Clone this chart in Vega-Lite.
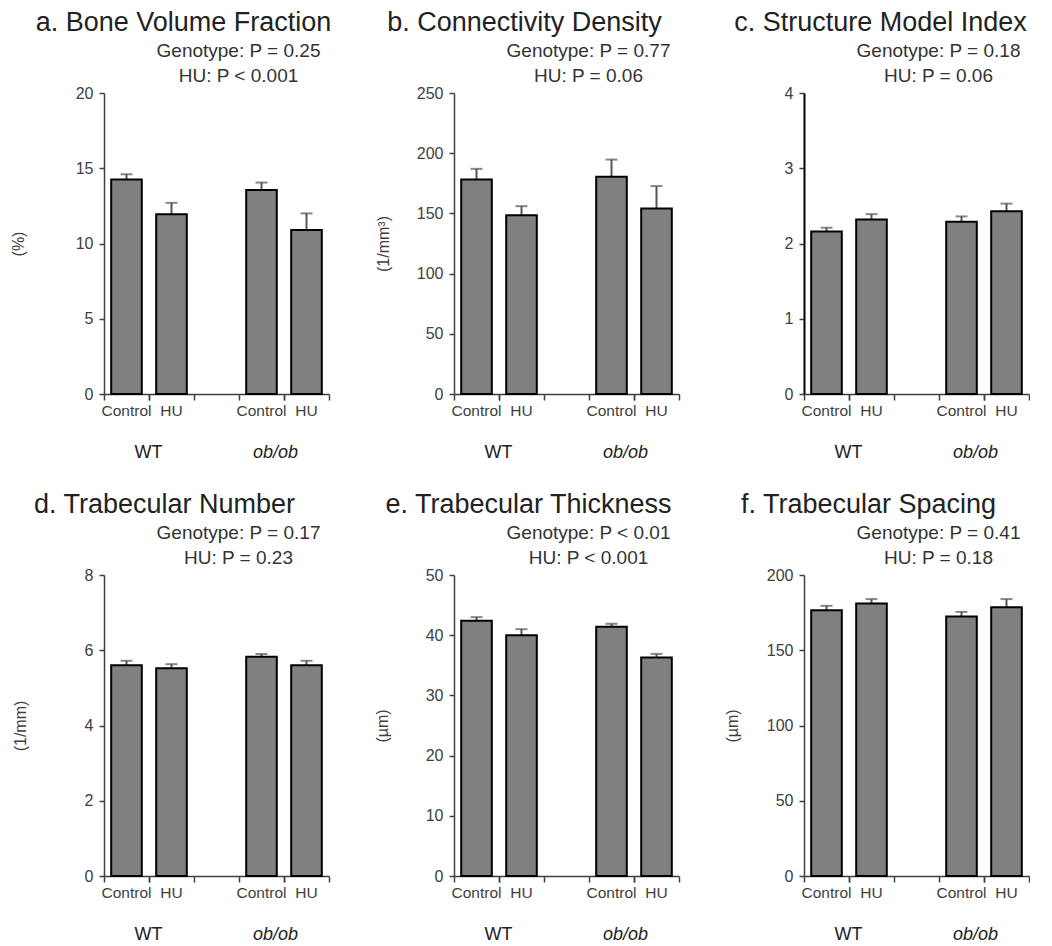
{
  "$schema": "https://vega.github.io/schema/vega-lite/v6.json",
  "padding": {"left": 10, "top": 9, "right": 0, "bottom": 0},
  "background": "white",
  "datasets": {
    "d": [
      {"panel": "a", "group": "WT Control", "mean": 14.25, "upper": 14.6},
      {"panel": "a", "group": "WT HU", "mean": 11.95, "upper": 12.7},
      {"panel": "a", "group": "ob/ob Control", "mean": 13.55, "upper": 14.05},
      {"panel": "a", "group": "ob/ob HU", "mean": 10.9, "upper": 12.0},
      {"panel": "b", "group": "WT Control", "mean": 178.2, "upper": 187},
      {"panel": "b", "group": "WT HU", "mean": 148.5, "upper": 156},
      {"panel": "b", "group": "ob/ob Control", "mean": 180.4, "upper": 194.7},
      {"panel": "b", "group": "ob/ob HU", "mean": 154, "upper": 172.7},
      {"panel": "c", "group": "WT Control", "mean": 2.16, "upper": 2.21},
      {"panel": "c", "group": "WT HU", "mean": 2.32, "upper": 2.39},
      {"panel": "c", "group": "ob/ob Control", "mean": 2.29, "upper": 2.36},
      {"panel": "c", "group": "ob/ob HU", "mean": 2.43, "upper": 2.53},
      {"panel": "d", "group": "WT Control", "mean": 5.6, "upper": 5.72},
      {"panel": "d", "group": "WT HU", "mean": 5.52, "upper": 5.63},
      {"panel": "d", "group": "ob/ob Control", "mean": 5.83, "upper": 5.9},
      {"panel": "d", "group": "ob/ob HU", "mean": 5.6, "upper": 5.72},
      {"panel": "e", "group": "WT Control", "mean": 42.4, "upper": 43.0},
      {"panel": "e", "group": "WT HU", "mean": 40.0, "upper": 41.0},
      {"panel": "e", "group": "ob/ob Control", "mean": 41.4, "upper": 41.9},
      {"panel": "e", "group": "ob/ob HU", "mean": 36.3, "upper": 36.9},
      {"panel": "f", "group": "WT Control", "mean": 176.5, "upper": 179.5},
      {"panel": "f", "group": "WT HU", "mean": 181, "upper": 184},
      {"panel": "f", "group": "ob/ob Control", "mean": 172.5, "upper": 175.5},
      {"panel": "f", "group": "ob/ob HU", "mean": 178.5, "upper": 184}
    ]
  },
  "columns": 3,
  "bounds": "flush",
  "align": "all",
  "spacing": {"row": 181, "column": 125},
  "concat": [
    {
      "title": {"text": "a. Bone Volume Fraction", "dx": -33},
      "width": 225, "height": 301,
      "data": {"name": "d"},
      "transform": [{"filter": "datum.panel == 'a'"}],
      "resolve": {"axis": {"x": "independent"}},
      "layer": [
        {"mark": {"type": "bar", "width": {"band": 0.68}, "fill": "#808080", "stroke": null},
         "encoding": {
           "x": {"field": "group", "type": "nominal", "scale": {"domain": ["WT Control", "WT HU", "gap", "ob/ob Control", "ob/ob HU"], "paddingInner": 0, "paddingOuter": 0},
                 "axis": {"orient": "bottom", "bandPosition": 0, "labels": false, "ticks": true, "tickSize": 6, "domain": true, "title": null}},
           "y": {"field": "mean", "type": "quantitative", "scale": {"domain": [0, 20], "nice": false},
                 "axis": {"values": [0, 5, 10, 15, 20], "format": "d", "title": "(%)", "titleX": -86, "titleBaseline": "middle", "titleFontSize": 16, "tickSize": 5, "labelPadding": 6, "labelFontSize": 16}}
         }},
        {"mark": {"type": "rule", "color": "#555555", "strokeWidth": 2},
         "encoding": {
           "x": {"field": "group", "type": "nominal",
                 "axis": {"orient": "bottom", "bandPosition": 1, "values": ["WT Control", "ob/ob Control", "ob/ob HU"], "ticks": true, "tickSize": 6, "domain": false, "title": null, "labelAngle": 0, "labelOverlap": false, "labelExpr": "datum.value == 'WT Control' ? 'WT' : (datum.value == 'ob/ob Control' ? 'ob/ob' : '')", "labelFontStyle": {"condition": {"test": "datum.value == 'ob/ob Control'", "value": "italic"}, "value": "normal"}, "labelOffset": {"condition": {"test": "datum.value == 'ob/ob Control'", "value": 14}, "value": 22}, "labelFontSize": 18, "labelPadding": 43, "labelColor": "#222222"}},
           "y": {"field": "mean", "type": "quantitative"},
           "y2": {"field": "upper"}
         }},
        {"mark": {"type": "tick", "color": "#555555", "thickness": 2, "size": 12, "orient": "horizontal"},
         "encoding": {
           "x": {"field": "group", "type": "nominal",
                 "axis": {"orient": "bottom", "bandPosition": 0.5, "values": ["WT Control", "WT HU", "ob/ob Control", "ob/ob HU"], "ticks": false, "domain": false, "title": null, "labelAngle": 0, "labelOverlap": false, "labelExpr": "indexof(datum.value, 'Control') >= 0 ? 'Control' : 'HU'", "labelPadding": 9, "labelFontSize": 15.5}},
           "y": {"field": "upper", "type": "quantitative"}
         }},
        {"mark": {"type": "bar", "width": {"band": 0.68}, "fill": "transparent", "stroke": "black", "strokeWidth": 2},
         "encoding": {
           "x": {"field": "group", "type": "nominal",
                 "axis": {"orient": "top", "domain": false, "ticks": false, "labels": false, "title": ["Genotype:  P = 0.25", "HU: P < 0.001"], "titleFontSize": 19, "titleColor": "#333333", "titleX": 134, "titleY": -37, "titleBaseline": "alphabetic", "titleAlign": "center", "titleLineHeight": 25}},
           "y": {"field": "mean", "type": "quantitative"}
         }}
      ]
    },
    {
      "title": {"text": "b. Connectivity Density", "dx": -42},
      "width": 225, "height": 301,
      "data": {"name": "d"},
      "transform": [{"filter": "datum.panel == 'b'"}],
      "resolve": {"axis": {"x": "independent"}},
      "layer": [
        {"mark": {"type": "bar", "width": {"band": 0.68}, "fill": "#808080", "stroke": null},
         "encoding": {
           "x": {"field": "group", "type": "nominal", "scale": {"domain": ["WT Control", "WT HU", "gap", "ob/ob Control", "ob/ob HU"], "paddingInner": 0, "paddingOuter": 0},
                 "axis": {"orient": "bottom", "bandPosition": 0, "labels": false, "ticks": true, "tickSize": 6, "domain": true, "title": null}},
           "y": {"field": "mean", "type": "quantitative", "scale": {"domain": [0, 250], "nice": false},
                 "axis": {"values": [0, 50, 100, 150, 200, 250], "format": "d", "title": "(1/mm³)", "titleX": -71, "titleBaseline": "middle", "titleFontSize": 16, "tickSize": 5, "labelPadding": 6, "labelFontSize": 16}}
         }},
        {"mark": {"type": "rule", "color": "#555555", "strokeWidth": 2},
         "encoding": {
           "x": {"field": "group", "type": "nominal",
                 "axis": {"orient": "bottom", "bandPosition": 1, "values": ["WT Control", "ob/ob Control", "ob/ob HU"], "ticks": true, "tickSize": 6, "domain": false, "title": null, "labelAngle": 0, "labelOverlap": false, "labelExpr": "datum.value == 'WT Control' ? 'WT' : (datum.value == 'ob/ob Control' ? 'ob/ob' : '')", "labelFontStyle": {"condition": {"test": "datum.value == 'ob/ob Control'", "value": "italic"}, "value": "normal"}, "labelOffset": {"condition": {"test": "datum.value == 'ob/ob Control'", "value": 14}, "value": 22}, "labelFontSize": 18, "labelPadding": 43, "labelColor": "#222222"}},
           "y": {"field": "mean", "type": "quantitative"},
           "y2": {"field": "upper"}
         }},
        {"mark": {"type": "tick", "color": "#555555", "thickness": 2, "size": 12, "orient": "horizontal"},
         "encoding": {
           "x": {"field": "group", "type": "nominal",
                 "axis": {"orient": "bottom", "bandPosition": 0.5, "values": ["WT Control", "WT HU", "ob/ob Control", "ob/ob HU"], "ticks": false, "domain": false, "title": null, "labelAngle": 0, "labelOverlap": false, "labelExpr": "indexof(datum.value, 'Control') >= 0 ? 'Control' : 'HU'", "labelPadding": 9, "labelFontSize": 15.5}},
           "y": {"field": "upper", "type": "quantitative"}
         }},
        {"mark": {"type": "bar", "width": {"band": 0.68}, "fill": "transparent", "stroke": "black", "strokeWidth": 2},
         "encoding": {
           "x": {"field": "group", "type": "nominal",
                 "axis": {"orient": "top", "domain": false, "ticks": false, "labels": false, "title": ["Genotype:  P = 0.77", "HU: P = 0.06"], "titleFontSize": 19, "titleColor": "#333333", "titleX": 134, "titleY": -37, "titleBaseline": "alphabetic", "titleAlign": "center", "titleLineHeight": 25}},
           "y": {"field": "mean", "type": "quantitative"}
         }}
      ]
    },
    {
      "title": {"text": "c. Structure Model Index", "dx": -36},
      "width": 225, "height": 301,
      "data": {"name": "d"},
      "transform": [{"filter": "datum.panel == 'c'"}],
      "resolve": {"axis": {"x": "independent"}},
      "layer": [
        {"mark": {"type": "bar", "width": {"band": 0.68}, "fill": "#808080", "stroke": null},
         "encoding": {
           "x": {"field": "group", "type": "nominal", "scale": {"domain": ["WT Control", "WT HU", "gap", "ob/ob Control", "ob/ob HU"], "paddingInner": 0, "paddingOuter": 0},
                 "axis": {"orient": "bottom", "bandPosition": 0, "labels": false, "ticks": true, "tickSize": 6, "domain": true, "title": null}},
           "y": {"field": "mean", "type": "quantitative", "scale": {"domain": [0, 4], "nice": false},
                 "axis": {"values": [0, 1, 2, 3, 4], "format": "d", "title": null, "tickSize": 5, "labelPadding": 6, "labelFontSize": 16, "domainColor": "#000000", "domainWidth": 2}}
         }},
        {"mark": {"type": "rule", "color": "#555555", "strokeWidth": 2},
         "encoding": {
           "x": {"field": "group", "type": "nominal",
                 "axis": {"orient": "bottom", "bandPosition": 1, "values": ["WT Control", "ob/ob Control", "ob/ob HU"], "ticks": true, "tickSize": 6, "domain": false, "title": null, "labelAngle": 0, "labelOverlap": false, "labelExpr": "datum.value == 'WT Control' ? 'WT' : (datum.value == 'ob/ob Control' ? 'ob/ob' : '')", "labelFontStyle": {"condition": {"test": "datum.value == 'ob/ob Control'", "value": "italic"}, "value": "normal"}, "labelOffset": {"condition": {"test": "datum.value == 'ob/ob Control'", "value": 14}, "value": 22}, "labelFontSize": 18, "labelPadding": 43, "labelColor": "#222222"}},
           "y": {"field": "mean", "type": "quantitative"},
           "y2": {"field": "upper"}
         }},
        {"mark": {"type": "tick", "color": "#555555", "thickness": 2, "size": 12, "orient": "horizontal"},
         "encoding": {
           "x": {"field": "group", "type": "nominal",
                 "axis": {"orient": "bottom", "bandPosition": 0.5, "values": ["WT Control", "WT HU", "ob/ob Control", "ob/ob HU"], "ticks": false, "domain": false, "title": null, "labelAngle": 0, "labelOverlap": false, "labelExpr": "indexof(datum.value, 'Control') >= 0 ? 'Control' : 'HU'", "labelPadding": 9, "labelFontSize": 15.5}},
           "y": {"field": "upper", "type": "quantitative"}
         }},
        {"mark": {"type": "bar", "width": {"band": 0.68}, "fill": "transparent", "stroke": "black", "strokeWidth": 2},
         "encoding": {
           "x": {"field": "group", "type": "nominal",
                 "axis": {"orient": "top", "domain": false, "ticks": false, "labels": false, "title": ["Genotype:  P = 0.18", "HU: P = 0.06"], "titleFontSize": 19, "titleColor": "#333333", "titleX": 134, "titleY": -37, "titleBaseline": "alphabetic", "titleAlign": "center", "titleLineHeight": 25}},
           "y": {"field": "mean", "type": "quantitative"}
         }}
      ]
    },
    {
      "title": {"text": "d. Trabecular Number", "dx": -52},
      "width": 225, "height": 301,
      "data": {"name": "d"},
      "transform": [{"filter": "datum.panel == 'd'"}],
      "resolve": {"axis": {"x": "independent"}},
      "layer": [
        {"mark": {"type": "bar", "width": {"band": 0.68}, "fill": "#808080", "stroke": null},
         "encoding": {
           "x": {"field": "group", "type": "nominal", "scale": {"domain": ["WT Control", "WT HU", "gap", "ob/ob Control", "ob/ob HU"], "paddingInner": 0, "paddingOuter": 0},
                 "axis": {"orient": "bottom", "bandPosition": 0, "labels": false, "ticks": true, "tickSize": 6, "domain": true, "title": null}},
           "y": {"field": "mean", "type": "quantitative", "scale": {"domain": [0, 8], "nice": false},
                 "axis": {"values": [0, 2, 4, 6, 8], "format": "d", "title": "(1/mm)", "titleX": -84, "titleBaseline": "middle", "titleFontSize": 16, "tickSize": 5, "labelPadding": 6, "labelFontSize": 16}}
         }},
        {"mark": {"type": "rule", "color": "#555555", "strokeWidth": 2},
         "encoding": {
           "x": {"field": "group", "type": "nominal",
                 "axis": {"orient": "bottom", "bandPosition": 1, "values": ["WT Control", "ob/ob Control", "ob/ob HU"], "ticks": true, "tickSize": 6, "domain": false, "title": null, "labelAngle": 0, "labelOverlap": false, "labelExpr": "datum.value == 'WT Control' ? 'WT' : (datum.value == 'ob/ob Control' ? 'ob/ob' : '')", "labelFontStyle": {"condition": {"test": "datum.value == 'ob/ob Control'", "value": "italic"}, "value": "normal"}, "labelOffset": {"condition": {"test": "datum.value == 'ob/ob Control'", "value": 14}, "value": 22}, "labelFontSize": 18, "labelPadding": 43, "labelColor": "#222222"}},
           "y": {"field": "mean", "type": "quantitative"},
           "y2": {"field": "upper"}
         }},
        {"mark": {"type": "tick", "color": "#555555", "thickness": 2, "size": 12, "orient": "horizontal"},
         "encoding": {
           "x": {"field": "group", "type": "nominal",
                 "axis": {"orient": "bottom", "bandPosition": 0.5, "values": ["WT Control", "WT HU", "ob/ob Control", "ob/ob HU"], "ticks": false, "domain": false, "title": null, "labelAngle": 0, "labelOverlap": false, "labelExpr": "indexof(datum.value, 'Control') >= 0 ? 'Control' : 'HU'", "labelPadding": 9, "labelFontSize": 15.5}},
           "y": {"field": "upper", "type": "quantitative"}
         }},
        {"mark": {"type": "bar", "width": {"band": 0.68}, "fill": "transparent", "stroke": "black", "strokeWidth": 2},
         "encoding": {
           "x": {"field": "group", "type": "nominal",
                 "axis": {"orient": "top", "domain": false, "ticks": false, "labels": false, "title": ["Genotype:  P = 0.17", "HU: P = 0.23"], "titleFontSize": 19, "titleColor": "#333333", "titleX": 134, "titleY": -37, "titleBaseline": "alphabetic", "titleAlign": "center", "titleLineHeight": 25}},
           "y": {"field": "mean", "type": "quantitative"}
         }}
      ]
    },
    {
      "title": {"text": "e. Trabecular Thickness", "dx": -38},
      "width": 225, "height": 301,
      "data": {"name": "d"},
      "transform": [{"filter": "datum.panel == 'e'"}],
      "resolve": {"axis": {"x": "independent"}},
      "layer": [
        {"mark": {"type": "bar", "width": {"band": 0.68}, "fill": "#808080", "stroke": null},
         "encoding": {
           "x": {"field": "group", "type": "nominal", "scale": {"domain": ["WT Control", "WT HU", "gap", "ob/ob Control", "ob/ob HU"], "paddingInner": 0, "paddingOuter": 0},
                 "axis": {"orient": "bottom", "bandPosition": 0, "labels": false, "ticks": true, "tickSize": 6, "domain": true, "title": null}},
           "y": {"field": "mean", "type": "quantitative", "scale": {"domain": [0, 50], "nice": false},
                 "axis": {"values": [0, 10, 20, 30, 40, 50], "format": "d", "title": "(µm)", "titleX": -72, "titleBaseline": "middle", "titleFontSize": 16, "tickSize": 5, "labelPadding": 6, "labelFontSize": 16}}
         }},
        {"mark": {"type": "rule", "color": "#555555", "strokeWidth": 2},
         "encoding": {
           "x": {"field": "group", "type": "nominal",
                 "axis": {"orient": "bottom", "bandPosition": 1, "values": ["WT Control", "ob/ob Control", "ob/ob HU"], "ticks": true, "tickSize": 6, "domain": false, "title": null, "labelAngle": 0, "labelOverlap": false, "labelExpr": "datum.value == 'WT Control' ? 'WT' : (datum.value == 'ob/ob Control' ? 'ob/ob' : '')", "labelFontStyle": {"condition": {"test": "datum.value == 'ob/ob Control'", "value": "italic"}, "value": "normal"}, "labelOffset": {"condition": {"test": "datum.value == 'ob/ob Control'", "value": 14}, "value": 22}, "labelFontSize": 18, "labelPadding": 43, "labelColor": "#222222"}},
           "y": {"field": "mean", "type": "quantitative"},
           "y2": {"field": "upper"}
         }},
        {"mark": {"type": "tick", "color": "#555555", "thickness": 2, "size": 12, "orient": "horizontal"},
         "encoding": {
           "x": {"field": "group", "type": "nominal",
                 "axis": {"orient": "bottom", "bandPosition": 0.5, "values": ["WT Control", "WT HU", "ob/ob Control", "ob/ob HU"], "ticks": false, "domain": false, "title": null, "labelAngle": 0, "labelOverlap": false, "labelExpr": "indexof(datum.value, 'Control') >= 0 ? 'Control' : 'HU'", "labelPadding": 9, "labelFontSize": 15.5}},
           "y": {"field": "upper", "type": "quantitative"}
         }},
        {"mark": {"type": "bar", "width": {"band": 0.68}, "fill": "transparent", "stroke": "black", "strokeWidth": 2},
         "encoding": {
           "x": {"field": "group", "type": "nominal",
                 "axis": {"orient": "top", "domain": false, "ticks": false, "labels": false, "title": ["Genotype:  P < 0.01", "HU: P < 0.001"], "titleFontSize": 19, "titleColor": "#333333", "titleX": 134, "titleY": -37, "titleBaseline": "alphabetic", "titleAlign": "center", "titleLineHeight": 25}},
           "y": {"field": "mean", "type": "quantitative"}
         }}
      ]
    },
    {
      "title": {"text": "f. Trabecular Spacing", "dx": -48},
      "width": 225, "height": 301,
      "data": {"name": "d"},
      "transform": [{"filter": "datum.panel == 'f'"}],
      "resolve": {"axis": {"x": "independent"}},
      "layer": [
        {"mark": {"type": "bar", "width": {"band": 0.68}, "fill": "#808080", "stroke": null},
         "encoding": {
           "x": {"field": "group", "type": "nominal", "scale": {"domain": ["WT Control", "WT HU", "gap", "ob/ob Control", "ob/ob HU"], "paddingInner": 0, "paddingOuter": 0},
                 "axis": {"orient": "bottom", "bandPosition": 0, "labels": false, "ticks": true, "tickSize": 6, "domain": true, "title": null}},
           "y": {"field": "mean", "type": "quantitative", "scale": {"domain": [0, 200], "nice": false},
                 "axis": {"values": [0, 50, 100, 150, 200], "format": "d", "title": "(µm)", "titleX": -72, "titleBaseline": "middle", "titleFontSize": 16, "tickSize": 5, "labelPadding": 6, "labelFontSize": 16}}
         }},
        {"mark": {"type": "rule", "color": "#555555", "strokeWidth": 2},
         "encoding": {
           "x": {"field": "group", "type": "nominal",
                 "axis": {"orient": "bottom", "bandPosition": 1, "values": ["WT Control", "ob/ob Control", "ob/ob HU"], "ticks": true, "tickSize": 6, "domain": false, "title": null, "labelAngle": 0, "labelOverlap": false, "labelExpr": "datum.value == 'WT Control' ? 'WT' : (datum.value == 'ob/ob Control' ? 'ob/ob' : '')", "labelFontStyle": {"condition": {"test": "datum.value == 'ob/ob Control'", "value": "italic"}, "value": "normal"}, "labelOffset": {"condition": {"test": "datum.value == 'ob/ob Control'", "value": 14}, "value": 22}, "labelFontSize": 18, "labelPadding": 43, "labelColor": "#222222"}},
           "y": {"field": "mean", "type": "quantitative"},
           "y2": {"field": "upper"}
         }},
        {"mark": {"type": "tick", "color": "#555555", "thickness": 2, "size": 12, "orient": "horizontal"},
         "encoding": {
           "x": {"field": "group", "type": "nominal",
                 "axis": {"orient": "bottom", "bandPosition": 0.5, "values": ["WT Control", "WT HU", "ob/ob Control", "ob/ob HU"], "ticks": false, "domain": false, "title": null, "labelAngle": 0, "labelOverlap": false, "labelExpr": "indexof(datum.value, 'Control') >= 0 ? 'Control' : 'HU'", "labelPadding": 9, "labelFontSize": 15.5}},
           "y": {"field": "upper", "type": "quantitative"}
         }},
        {"mark": {"type": "bar", "width": {"band": 0.68}, "fill": "transparent", "stroke": "black", "strokeWidth": 2},
         "encoding": {
           "x": {"field": "group", "type": "nominal",
                 "axis": {"orient": "top", "domain": false, "ticks": false, "labels": false, "title": ["Genotype:  P = 0.41", "HU: P = 0.18"], "titleFontSize": 19, "titleColor": "#333333", "titleX": 134, "titleY": -37, "titleBaseline": "alphabetic", "titleAlign": "center", "titleLineHeight": 25}},
           "y": {"field": "mean", "type": "quantitative"}
         }}
      ]
    }
  ],
  "config": {
    "font": "Liberation Sans",
    "view": {"stroke": null},
    "axis": {"grid": false, "labelFontSize": 15, "labelColor": "#404040", "domainColor": "#404040", "tickColor": "#404040", "titleColor": "#404040", "titleFontWeight": "normal", "domainWidth": 1.5, "tickWidth": 1.5, "labelAngle": 0},
    "title": {"fontSize": 27, "fontWeight": "normal", "color": "#222222", "anchor": "middle", "frame": "group", "offset": 4}
  }
}
